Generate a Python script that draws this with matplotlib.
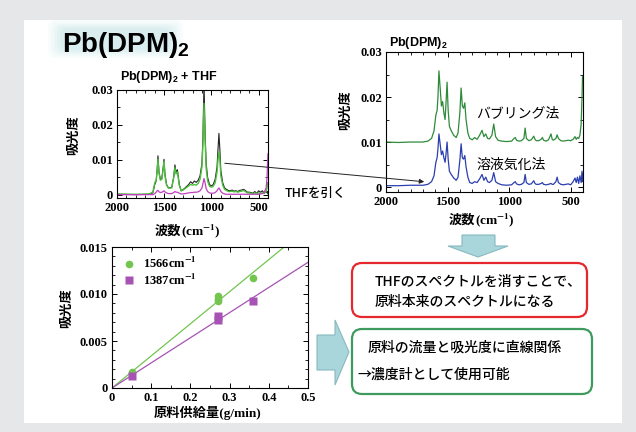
import numpy as np
import matplotlib
matplotlib.use("Agg")
import matplotlib.pyplot as plt
import matplotlib.transforms as mtransforms
from matplotlib.patches import Rectangle, FancyBboxPatch, Polygon, FancyArrowPatch
from matplotlib.ticker import MultipleLocator

plt.rcParams['font.family'] = ['Liberation Serif', 'Noto Sans CJK JP']
plt.rcParams['font.weight'] = 'bold'
plt.rcParams['mathtext.fontset'] = 'custom'
plt.rcParams['mathtext.rm'] = 'Liberation Sans:bold'
plt.rcParams['mathtext.bf'] = 'Liberation Sans:bold'
plt.rcParams['mathtext.it'] = 'Liberation Sans:bold'

# ---------------- data ----------------
# Top-left: Pb(DPM)2 + THF spectra
wn_left = [2000, 1800, 1660, 1620, 1600, 1585, 1575, 1566, 1555, 1540, 1525, 1510, 1502, 1492,
           1475, 1455, 1420, 1400, 1386, 1375, 1360, 1340, 1320, 1300, 1280, 1260, 1240, 1220,
           1200, 1180, 1160, 1140, 1120, 1100, 1090, 1078, 1066, 1055, 1040, 1020, 1000, 980,
           960, 940, 930, 920, 910, 900, 880, 860, 840, 820, 800, 780, 760, 740, 720, 700, 680,
           660, 640, 620, 600, 580, 560, 540, 520, 500, 480, 460, 440, 420, 410, 405, 400]
abs_total = [0.0002, 0.0001, 0.0002, 0.0006, 0.0030, 0.0040, 0.0070, 0.0112, 0.0065, 0.0045,
             0.0048, 0.0080, 0.0102, 0.0060, 0.0030, 0.0020, 0.0022, 0.0050, 0.0086, 0.0065,
             0.0072, 0.0030, 0.0012, 0.0015, 0.0020, 0.0025, 0.0030, 0.0038, 0.0033, 0.0040,
             0.0036, 0.0042, 0.0055, 0.0090, 0.0160, 0.0320, 0.0170, 0.0090, 0.0050, 0.0030,
             0.0026, 0.0030, 0.0045, 0.0080, 0.0130, 0.0176, 0.0130, 0.0070, 0.0035, 0.0020,
             0.0016, 0.0013, 0.0012, 0.0014, 0.0011, 0.0012, 0.0010, 0.0013, 0.0014, 0.0016,
             0.0013, 0.0008, 0.0008, 0.0007, 0.0005, 0.0010, 0.0004, 0.0012, 0.0008, 0.0012,
             0.0005, 0.0010, 0.0006, 0.0010, 0.0003]
abs_sample = [0.0003, 0.0002, 0.0003, 0.0008, 0.0035, 0.0042, 0.0068, 0.0102, 0.0062, 0.0042,
              0.0045, 0.0075, 0.0095, 0.0055, 0.0028, 0.0020, 0.0020, 0.0048, 0.0078, 0.0060,
              0.0066, 0.0028, 0.0012, 0.0014, 0.0018, 0.0022, 0.0026, 0.0030, 0.0028, 0.0030,
              0.0028, 0.0033, 0.0045, 0.0080, 0.0140, 0.0262, 0.0150, 0.0075, 0.0040, 0.0025,
              0.0022, 0.0025, 0.0035, 0.0065, 0.0100, 0.0125, 0.0100, 0.0055, 0.0028, 0.0016,
              0.0013, 0.0010, 0.0010, 0.0011, 0.0009, 0.0010, 0.0008, 0.0010, 0.0011, 0.0013,
              0.0010, 0.0006, 0.0006, 0.0005, 0.0004, 0.0006, 0.0004, 0.0006, 0.0005, 0.0006,
              0.0005, 0.0010, 0.0020, 0.0035, 0.0030]
abs_thf = [0.0001, 0.0001, 0.0001, 0.0001, 0.0004, 0.0008, 0.0012, 0.0013, 0.0009, 0.0007,
           0.0008, 0.0010, 0.0012, 0.0009, 0.0006, 0.0004, 0.0004, 0.0007, 0.0010, 0.0008,
           0.0008, 0.0005, 0.0003, 0.0003, 0.0004, 0.0005, 0.0006, 0.0007, 0.0007, 0.0008,
           0.0008, 0.0009, 0.0012, 0.0020, 0.0032, 0.0047, 0.0034, 0.0018, 0.0010, 0.0006,
           0.0005, 0.0005, 0.0007, 0.0012, 0.0017, 0.0020, 0.0016, 0.0010, 0.0005, 0.0003,
           0.0002, 0.0002, 0.0002, 0.0002, 0.0002, 0.0002, 0.0002, 0.0002, 0.0002, 0.0002,
           0.0002, 0.0002, 0.0002, 0.0002, 0.0002, 0.0002, 0.0002, 0.0002, 0.0003, 0.0004,
           0.0008, 0.0020, 0.0050, 0.0090, 0.0118]

# Top-right: Pb(DPM)2 spectra (bubbling shown offset by +0.01)
wn_right = [2000, 1900, 1800, 1700, 1660, 1630, 1610, 1595, 1585, 1578, 1570, 1560, 1550, 1540,
            1530, 1520, 1512, 1504, 1495, 1485, 1470, 1450, 1430, 1415, 1400, 1390, 1380, 1370,
            1360, 1350, 1335, 1320, 1300, 1280, 1260, 1240, 1220, 1205, 1190, 1175, 1160, 1140,
            1125, 1110, 1090, 1060, 1020, 980, 960, 950, 940, 920, 900, 880, 870, 860, 840, 820,
            800, 790, 780, 760, 740, 730, 720, 700, 680, 660, 650, 640, 620, 610, 600, 580, 560,
            540, 520, 500, 480, 465, 455, 445, 435, 425, 415, 408, 404, 400]
abs_bubbling = [0.0100, 0.0099, 0.0100, 0.0100, 0.0102, 0.0108, 0.0125, 0.0160, 0.0170, 0.0200,
                0.0258, 0.0220, 0.0180, 0.0190, 0.0165, 0.0150, 0.0190, 0.0233, 0.0170, 0.0135,
                0.0125, 0.0115, 0.0110, 0.0120, 0.0165, 0.0220, 0.0180, 0.0175, 0.0187, 0.0150,
                0.0120, 0.0108, 0.0105, 0.0110, 0.0106, 0.0115, 0.0126, 0.0112, 0.0118, 0.0108,
                0.0107, 0.0115, 0.0140, 0.0112, 0.0104, 0.0102, 0.0101, 0.0102, 0.0108, 0.0110,
                0.0104, 0.0102, 0.0103, 0.0108, 0.0131, 0.0108, 0.0103, 0.0105, 0.0113, 0.0106,
                0.0103, 0.0103, 0.0106, 0.0110, 0.0104, 0.0102, 0.0105, 0.0118, 0.0106, 0.0104,
                0.0108, 0.0116, 0.0108, 0.0103, 0.0102, 0.0103, 0.0104, 0.0103, 0.0106, 0.0112,
                0.0106, 0.0110, 0.0108, 0.0115, 0.0140, 0.0200, 0.0245, 0.0240]
abs_solution = [0.0003, 0.0003, 0.0004, 0.0004, 0.0006, 0.0012, 0.0025, 0.0055, 0.0065, 0.0085,
                0.0118, 0.0095, 0.0072, 0.0080, 0.0065, 0.0055, 0.0075, 0.0100, 0.0062, 0.0035,
                0.0028, 0.0020, 0.0015, 0.0022, 0.0060, 0.0096, 0.0065, 0.0062, 0.0070, 0.0045,
                0.0022, 0.0010, 0.0008, 0.0012, 0.0010, 0.0018, 0.0028, 0.0015, 0.0022, 0.0012,
                0.0010, 0.0015, 0.0032, 0.0012, 0.0008, 0.0005, 0.0004, 0.0005, 0.0010, 0.0012,
                0.0007, 0.0005, 0.0006, 0.0010, 0.0028, 0.0010, 0.0006, 0.0007, 0.0014, 0.0008,
                0.0006, 0.0006, 0.0008, 0.0010, 0.0006, 0.0005, 0.0006, 0.0008, 0.0006, 0.0006,
                0.0012, 0.0022, 0.0010, 0.0006, 0.0005, 0.0006, 0.0007, 0.0005, 0.0012, 0.0020,
                0.0010, 0.0022, 0.0008, 0.0025, 0.0010, 0.0035, 0.0012, 0.0030]

# Bottom-left: absorbance vs. feed rate
feed_1566 = [0.05, 0.27, 0.27, 0.27, 0.36]
abs_1566 = [0.00167, 0.00982, 0.00947, 0.00922, 0.01167]
feed_1387 = [0.05, 0.27, 0.27, 0.36]
abs_1387 = [0.00131, 0.00762, 0.00727, 0.00929]

spec_xticks = [2000, 1500, 1000, 500]
spec_xticklabels = ['2000', '1500', '1000', '500']
spec_yticks = [0, 0.01, 0.02, 0.03]
spec_yticklabels = ['0', '0.01', '0.02', '0.03']
feed_xticks = [0, 0.1, 0.2, 0.3, 0.4, 0.5]
feed_xticklabels = ['0', '0.1', '0.2', '0.3', '0.4', '0.5']
feed_yticks = [0, 0.005, 0.010, 0.015]
feed_yticklabels = ['0', '0.005', '0.010', '0.015']

# ---------------- figure ----------------
W, H = 636, 432
fig = plt.figure(figsize=(W / 100, H / 100), dpi=100)
fig.patch.set_facecolor('#e6e7e9')
pix = mtransforms.Affine2D().scale(1 / W, -1 / H).translate(0, 1) + fig.transFigure


def rect(x0, y0, x1, y1):
    return [x0 / W, 1 - y1 / H, (x1 - x0) / W, (y1 - y0) / H]


# white panel
fig.patches.append(Rectangle((24, 20), 598, 403, transform=pix, facecolor='white',
                             edgecolor='none', zorder=-5))
# title glow
for i, a in enumerate([0.10, 0.12, 0.15, 0.2, 0.25]):
    fig.patches.append(FancyBboxPatch((48 + 3 * i, 20 + 2 * i), 135 - 6 * i, 38 - 4 * i,
                                      boxstyle='round,pad=0,rounding_size=8', transform=pix,
                                      facecolor='#c3e6ea', edgecolor='none', alpha=a, zorder=-4))
fig.text(62, 52, r'Pb(DPM)$_\mathbf{2}$', transform=pix, fontsize=20, fontweight='bold',
         family='Liberation Sans', va='baseline', ha='left', zorder=3)

CJK = ['Noto Sans CJK JP', 'DejaVu Sans']
TICKFONT = {'family': 'Liberation Serif', 'weight': 'bold', 'size': 9}


def style_axes(ax, xt, xtl, yt, ytl):
    ax.set_zorder(2)
    ax.set_xticks(xt)
    ax.set_xticklabels(xtl, fontdict=TICKFONT)
    ax.set_yticks(yt)
    ax.set_yticklabels(ytl, fontdict=TICKFONT)
    ax.tick_params(which='both', direction='in', top=True, right=True, pad=3)
    ax.tick_params(which='major', length=3.5, width=0.7)
    ax.tick_params(which='minor', length=2, width=0.6)
    for s in ax.spines.values():
        s.set_linewidth(0.8)


def wavenumber_label(xc, y):
    # "波数" (CJK) followed by "(cm^-1)" (serif)
    fig.text(xc, y, '波数', transform=pix, fontsize=9.5, fontweight='bold', family=CJK,
             ha='right', va='center')
    fig.text(xc, y, r'(cm$^{\mathbf{-1}}$)', transform=pix, fontsize=9.5, fontweight='bold',
             family='Liberation Serif', math_fontfamily='stix', ha='left', va='center')


# ---- top-left spectrum ----
ax1 = fig.add_axes(rect(117, 90, 268, 198))
ax1.plot(wn_left, abs_total, color='#222222', lw=0.8)
ax1.plot(wn_left, abs_sample, color='#4cbf3c', lw=1.0)
ax1.plot(wn_left, abs_thf, color='#c03fc0', lw=0.9)
ax1.set_xlim(2000, 400)
ax1.set_ylim(-0.00086, 0.03)
ax1.xaxis.set_minor_locator(MultipleLocator(100))
ax1.yaxis.set_minor_locator(MultipleLocator(0.005))
style_axes(ax1, spec_xticks, spec_xticklabels, spec_yticks, spec_yticklabels)
fig.text(120, 80, r'Pb(DPM)$_\mathbf{2}$ + THF', transform=pix, fontsize=9, fontweight='bold',
         family='Liberation Sans', va='baseline', ha='left')
fig.text(73, 135, '吸光度', transform=pix, rotation=90, fontsize=9.5, fontweight='bold',
         family=CJK, ha='center', va='center')
wavenumber_label(181, 231)

# ---- top-right spectrum ----
ax2 = fig.add_axes(rect(386, 52, 583, 192))
ax2.plot(wn_right, abs_bubbling, color='#2e8b3a', lw=0.9)
ax2.plot(wn_right, abs_solution, color='#2b3fb0', lw=0.9)
ax2.set_xlim(2000, 400)
ax2.set_ylim(-0.0011, 0.03)
ax2.xaxis.set_minor_locator(MultipleLocator(100))
ax2.yaxis.set_minor_locator(MultipleLocator(0.005))
style_axes(ax2, spec_xticks, spec_xticklabels, spec_yticks, spec_yticklabels)
fig.text(389, 46, r'Pb(DPM)$_\mathbf{2}$', transform=pix, fontsize=9, fontweight='bold',
         family='Liberation Sans', va='baseline', ha='left')
fig.text(345, 110, '吸光度', transform=pix, rotation=90, fontsize=9.5, fontweight='bold',
         family=CJK, ha='center', va='center')
wavenumber_label(475, 220)
fig.text(476, 113, 'バブリング法', transform=pix, fontsize=10, fontweight='normal', family=CJK,
         ha='left', va='center', zorder=5)
fig.text(476, 165, '溶液気化法', transform=pix, fontsize=10, fontweight='normal', family=CJK,
         ha='left', va='center', zorder=5)

# "THFを引く" annotation arrow
fig.text(285, 193, 'THFを引く', transform=pix, fontsize=9, fontweight='medium', family=CJK,
         ha='left', va='center')
fig.patches.append(FancyArrowPatch((222, 163), (427, 182), transform=pix, arrowstyle='-|>',
                                   mutation_scale=7, lw=0.7, color='#222222', zorder=5))

# ---- bottom-left scatter ----
ax3 = fig.add_axes(rect(112, 247, 308, 388))
fx = np.array([0.0, 0.5])
for fx_pts, fy_pts, col in [(feed_1566, abs_1566, '#73c54f'), (feed_1387, abs_1387, '#a653b3')]:
    xs = np.asarray(fx_pts)
    ys = np.asarray(fy_pts)
    slope = np.sum(xs * ys) / np.sum(xs * xs)
    ax3.plot(fx, slope * fx, color=col, lw=0.9)
ax3.plot(feed_1566, abs_1566, 'o', color='#73c54f', ms=5.5, mec='none', label='1566cm$^{\\mathbf{-1}}$')
ax3.plot(feed_1387, abs_1387, 's', color='#a653b3', ms=6, mec='none', label='1387cm$^{\\mathbf{-1}}$')
ax3.set_xlim(0, 0.5)
ax3.set_ylim(0, 0.015)
ax3.xaxis.set_minor_locator(MultipleLocator(0.05))
ax3.yaxis.set_minor_locator(MultipleLocator(0.001))
style_axes(ax3, feed_xticks, feed_xticklabels, feed_yticks, feed_yticklabels)
leg = ax3.legend(loc='upper left', bbox_to_anchor=(0.03, 0.97), frameon=False, handlelength=1.0,
                 handletextpad=0.6, labelspacing=0.1, borderaxespad=0,
                 prop={'family': 'Liberation Serif', 'weight': 'bold', 'size': 9})
for t in leg.get_texts():
    t.set_math_fontfamily('stix')
fig.text(66, 308, '吸光度', transform=pix, rotation=90, fontsize=9.5, fontweight='bold',
         family=CJK, ha='center', va='center')
fig.text(208, 413, '原料供給量(g/min)', transform=pix, fontsize=9.5, fontweight='bold',
         family=['Liberation Serif', 'Noto Sans CJK JP'], ha='center', va='center')

# ---- block arrows ----
arrow_fc, arrow_ec = '#a9d6db', '#86b9c0'
down = [(462, 235), (495, 235), (495, 246), (508, 246), (478, 257), (448, 246), (462, 246)]
fig.patches.append(Polygon(down, closed=True, transform=pix, facecolor=arrow_fc,
                           edgecolor=arrow_ec, lw=0.8))
right = [(317, 335), (335, 335), (335, 320), (349, 352), (335, 385), (335, 370), (317, 370)]
fig.patches.append(Polygon(right, closed=True, transform=pix, facecolor=arrow_fc,
                           edgecolor=arrow_ec, lw=0.8))

# ---- message boxes ----
fig.patches.append(FancyBboxPatch((352, 263), 235, 54, boxstyle='round,pad=0,rounding_size=10',
                                  transform=pix, facecolor='white', edgecolor='#e5282d', lw=1.6))
fig.text(375, 282, 'THFのスペクトルを消すことで、', transform=pix, fontsize=10, fontweight='medium',
         family=CJK, ha='left', va='center')
fig.text(375, 302, '原料本来のスペクトルになる', transform=pix, fontsize=10, fontweight='medium',
         family=CJK, ha='left', va='center')
fig.patches.append(FancyBboxPatch((352, 329), 240, 65, boxstyle='round,pad=0,rounding_size=10',
                                  transform=pix, facecolor='white', edgecolor='#3f9a5e', lw=1.6))
fig.text(368, 348, '原料の流量と吸光度に直線関係', transform=pix, fontsize=10, fontweight='medium',
         family=CJK, ha='left', va='center')
fig.text(357, 375, '→濃度計として使用可能', transform=pix, fontsize=10, fontweight='medium',
         family=CJK, ha='left', va='center')

fig.savefig('out.png', dpi=100, facecolor=fig.get_facecolor())
